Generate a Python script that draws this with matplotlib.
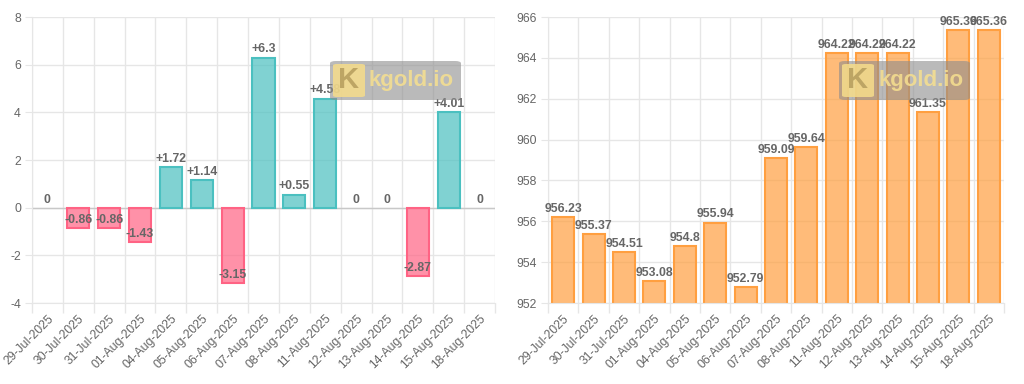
import matplotlib.pyplot as plt
from matplotlib.patches import FancyBboxPatch
import numpy as np

plt.rcParams['font.family'] = ['Liberation Sans', 'DejaVu Sans']
plt.rcParams['axes.unicode_minus'] = False

# Dates shared by both charts
dates = ['29-Jul-2025', '30-Jul-2025', '31-Jul-2025', '01-Aug-2025', '04-Aug-2025',
         '05-Aug-2025', '06-Aug-2025', '07-Aug-2025', '08-Aug-2025', '11-Aug-2025',
         '12-Aug-2025', '13-Aug-2025', '14-Aug-2025', '15-Aug-2025', '18-Aug-2025']

# Daily change (left chart)
changes = [0, -0.86, -0.86, -1.43, 1.72, 1.14, -3.15, 6.3, 0.55, 4.58, 0, 0, -2.87, 4.01, 0]

# Price (right chart)
prices = [956.23, 955.37, 954.51, 953.08, 954.8, 955.94, 952.79, 959.09, 959.64,
          964.22, 964.22, 964.22, 961.35, 965.36, 965.36]

left_yticks = [-4, -2, 0, 2, 4, 6, 8]
right_yticks = [952, 954, 956, 958, 960, 962, 964, 966]

teal = (75/255, 192/255, 192/255)
pink = (255/255, 99/255, 132/255)
orange = (255/255, 159/255, 64/255)
grid_c = '#e6e6e6'
text_c = '#666666'

fig = plt.figure(figsize=(10.24, 3.84), dpi=100)
ax1 = fig.add_axes([32/1024, 1 - 303/384, (495 - 32)/1024, (303 - 17)/384])
ax2 = fig.add_axes([548/1024, 1 - 303/384, (1004 - 548)/1024, (303 - 17)/384])

x = np.arange(len(dates))


def style_axis(ax, yticks):
    ax.set_xlim(-0.5, len(dates) - 0.5)
    ax.set_ylim(yticks[0], yticks[-1])
    ax.set_yticks(yticks)
    ax.set_xticks(x)
    ax.set_xticklabels(dates, rotation=45, ha='right', rotation_mode='anchor',
                       fontsize=8.8, color=text_c)
    ax.set_xticks(np.arange(-0.5, len(dates)), minor=True)
    ax.tick_params(axis='x', which='major', length=0, pad=7)
    ax.tick_params(axis='x', which='minor', length=7, color=grid_c, width=1)
    ax.tick_params(axis='y', length=5, color=grid_c, labelsize=8.8,
                   labelcolor=text_c, pad=3)
    ax.grid(True, which='minor', axis='x', color=grid_c, linewidth=1)
    ax.grid(True, which='major', axis='y', color=grid_c, linewidth=1)
    ax.set_axisbelow(True)
    for sp in ax.spines.values():
        sp.set_color(grid_c)
    ax.spines['top'].set_visible(False)
    ax.spines['right'].set_visible(False)


# Left chart: daily change
style_axis(ax1, left_yticks)
face = [teal if v >= 0 else pink for v in changes]
widths = [1.5 if v != 0 else 0 for v in changes]
ax1.bar(x, changes, width=0.72, color=[c + (0.7,) for c in face],
        edgecolor=face, linewidth=widths, zorder=2)
ax1.axhline(0, color='#c8c8c8', linewidth=1, zorder=1)
for xi, v in zip(x, changes):
    lab = '0' if v == 0 else (f'+{v:g}' if v > 0 else f'{v:g}')
    ax1.annotate(lab, (xi, v), xytext=(0, 1.5), textcoords='offset points',
                 ha='center', va='bottom', fontsize=8.8, fontweight='bold',
                 color='#666666', zorder=4)

# Right chart: price
style_axis(ax2, right_yticks)
ax2.bar(x, prices, width=0.72, color=orange + (0.7,), edgecolor=orange,
        linewidth=1.5, zorder=2)
for xi, v in zip(x, prices):
    ax2.annotate(f'{v:g}', (xi, v), xytext=(0, 1.5), textcoords='offset points',
                 ha='center', va='bottom', fontsize=8.8, fontweight='bold',
                 color='#666666', zorder=4)


# kgold.io watermark on each chart
def watermark(x0, y0, w, h):
    fx, fy = x0 / 1024, 1 - (y0 + h) / 384
    fw, fh = w / 1024, h / 384
    fig.patches.append(FancyBboxPatch((fx, fy), fw, fh,
                                      boxstyle='round,pad=0,rounding_size=0.006',
                                      transform=fig.transFigure, facecolor='#8c8c8c',
                                      alpha=0.6, edgecolor='none', zorder=10))
    fig.patches.append(FancyBboxPatch((fx + 3/1024, fy + 3/384), 32/1024, (h - 6)/384,
                                      boxstyle='round,pad=0,rounding_size=0.004',
                                      transform=fig.transFigure, facecolor='#f7dd8a',
                                      alpha=0.85, edgecolor='none', zorder=11))
    fig.text(fx + 19/1024, fy + fh / 2, 'K', ha='center', va='center',
             fontsize=21, fontweight='bold', color='#b8a060', alpha=0.9, zorder=12)
    fig.text(fx + 39/1024, fy + fh / 2, 'kgold.io', ha='left', va='center',
             fontsize=16, fontweight='bold', color='#f7e08f', alpha=0.85, zorder=12)


watermark(330, 61, 131, 39)
watermark(839, 61, 131, 39)

fig.savefig('out.png', dpi=100)
